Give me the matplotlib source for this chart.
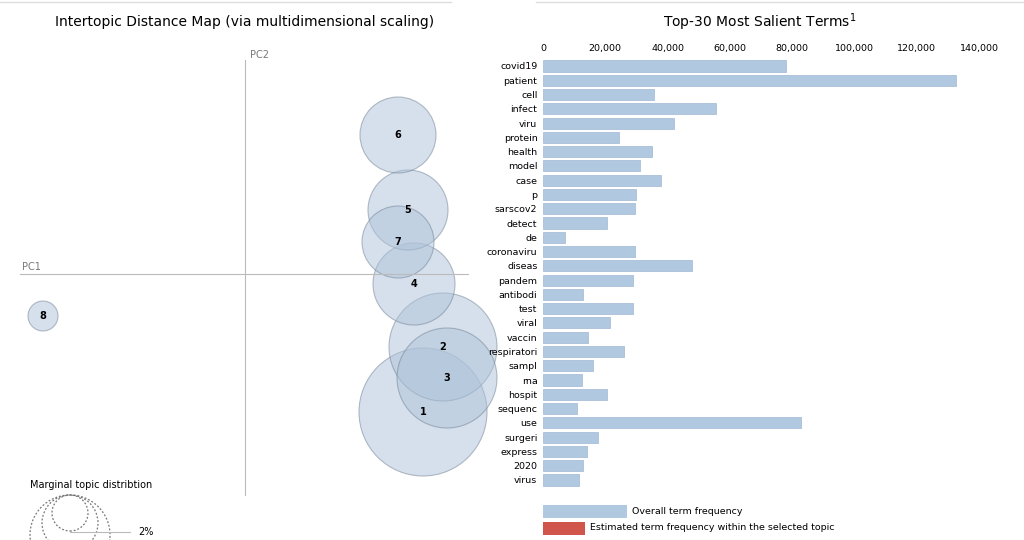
import matplotlib
matplotlib.use('Agg')
from matplotlib import pyplot as plt
from matplotlib.patches import Circle, Rectangle
from matplotlib.lines import Line2D

# topic map (PC coordinates, circle radius)
topics = ['1', '2', '3', '4', '5', '6', '7', '8']
topic_x = [1.78, 1.98, 2.02, 1.69, 1.63, 1.53, 1.53, -2.02]
topic_y = [-1.38, -0.73, -1.04, -0.10, 0.64, 1.39, 0.32, -0.42]
topic_r = [0.64, 0.54, 0.50, 0.41, 0.40, 0.38, 0.36, 0.15]

terms = ['covid19', 'patient', 'cell', 'infect', 'viru', 'protein', 'health', 'model',
         'case', 'p', 'sarscov2', 'detect', 'de', 'coronaviru', 'diseas', 'pandem',
         'antibodi', 'test', 'viral', 'vaccin', 'respiratori', 'sampl', 'rna', 'hospit',
         'sequenc', 'use', 'surgeri', 'express', '2020', 'virus']
freq = [78000, 132500, 35500, 55500, 42000, 24500, 35000, 31000, 38000, 30000,
        29500, 20500, 7000, 29500, 48000, 29000, 13000, 29000, 21500, 14500,
        26000, 16000, 12500, 20500, 11000, 83000, 17500, 14000, 13000, 11500]

blue = '#b0c8e0'

fig = plt.figure(figsize=(10.24, 5.4), dpi=100)

# ---- left: intertopic distance map ----
ax = fig.add_axes([0, 0, 0.5, 1])
ax.set_xlim(-2.45, 2.67)
ax.set_ylim(-2.66, 2.74)
ax.axis('off')
ax.plot([-2.25, 2.23], [0, 0], color='#bbbbbb', lw=0.8)
ax.plot([0, 0], [-2.21, 2.14], color='#bbbbbb', lw=0.8)
ax.text(-2.23, 0.04, 'PC1', fontsize=7, color='#777777')
ax.text(0.05, 2.16, 'PC2', fontsize=7, color='#777777')
for t, x, y, r in zip(topics, topic_x, topic_y, topic_r):
    ax.add_patch(Circle((x, y), r, facecolor='#aec3da', alpha=0.5,
                        edgecolor='#6f7f90', lw=0.8))
    ax.text(x, y, t, ha='center', va='center', fontsize=7, fontweight='bold')

# marginal topic distribution legend
ax.text(-2.15, -2.11, 'Marginal topic distribtion', fontsize=7, va='center')
for r, cy in [(0.18, -2.39), (0.28, -2.49), (0.40, -2.61)]:
    ax.add_patch(Circle((-1.75, cy), r, fill=False, ls=(0, (1.5, 1.5)),
                        edgecolor='#777777', lw=0.9))
ax.plot([-1.75, -1.15], [-2.58, -2.58], color='#bbbbbb', lw=0.8)
ax.text(-1.07, -2.58, '2%', fontsize=7, va='center')

fig.text(245 / 1024, 1 - 22 / 540, 'Intertopic Distance Map (via multidimensional scaling)',
         ha='center', va='center', fontsize=10)
fig.add_artist(Line2D([0.0, 0.44], [0.997, 0.997], color='#dddddd', lw=1))
fig.add_artist(Line2D([0.523, 1.0], [0.997, 0.997], color='#dddddd', lw=1))

# ---- right: salient terms ----
bx = fig.add_axes([543 / 1024, 0.098, 436 / 1024, 0.793])
pos = list(range(len(terms)))
bx.barh(pos, freq, height=0.78, color=blue, edgecolor='#9fb9d4', lw=0.5)
bx.set_xlim(0, 140000)
bx.set_ylim(len(terms) - 0.5, -0.5)
bx.set_yticks(pos)
bx.set_yticklabels(terms, fontsize=6.8)
bx.set_xticks(range(0, 140001, 20000))
bx.set_xticklabels([f'{v:,}' for v in range(0, 140001, 20000)], fontsize=6.8)
bx.xaxis.tick_top()
bx.tick_params(length=0, pad=4)
for s in bx.spines.values():
    s.set_visible(False)

fig.text(760 / 1024, 1 - 22 / 540, 'Top-30 Most Salient Terms$^1$',
         ha='center', va='center', fontsize=10)

# legend
fig.add_artist(Rectangle((543 / 1024, 1 - 518 / 540), 84 / 1024, 13 / 540,
                         facecolor=blue, edgecolor='none'))
fig.text(632 / 1024, 1 - 511 / 540, 'Overall term frequency', fontsize=6.8, va='center')
fig.add_artist(Rectangle((543 / 1024, 1 - 535 / 540), 42 / 1024, 13 / 540,
                         facecolor='#d0554a', edgecolor='none'))
fig.text(590 / 1024, 1 - 528 / 540, 'Estimated term frequency within the selected topic',
         fontsize=6.8, va='center')

fig.savefig('out.png', dpi=100)
